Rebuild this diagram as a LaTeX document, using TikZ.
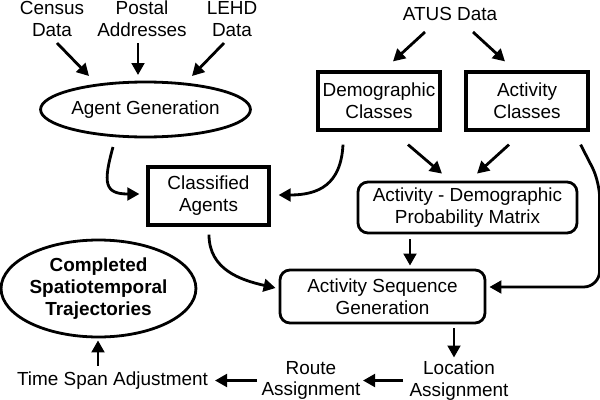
\documentclass[tikz,border=0pt]{standalone}
\usepackage{fontspec}
\setmainfont{Liberation Sans}
\usetikzlibrary{arrows.meta,shapes.geometric}

\tikzset{every picture/.style={line width=2pt}}
\tikzset{
  lbl/.style={align=center, inner sep=0pt, font=\fontsize{14.2}{16.4}\selectfont},
  sqbox/.style={draw, line width=2.4pt, align=center, inner sep=0pt, font=\fontsize{14.2}{16.4}\selectfont},
  rbox/.style={sqbox, line width=2.1pt, rounded corners=7.5pt},
  oval/.style={draw, ellipse, line width=2.1pt, align=center, inner sep=0pt, font=\fontsize{14.2}{16.4}\selectfont},
  arr/.style={-{Triangle[length=9pt,width=9.5pt]}, line width=2.1pt},
}

\begin{document}
\begin{tikzpicture}[x=0.75pt,y=0.75pt,yscale=-1,xscale=1]
	\useasboundingbox (0,0) rectangle (600,400);

	% Text Node
	\draw (52,19) node [lbl] (census) {Census\\Data};
	% Text Node
	\draw (142,19) node [lbl] (postal) {Postal\\Addresses};
	% Text Node
	\draw (232,19) node [lbl] (lehd) {LEHD\\Data};
	% Text Node
	\draw (450,14) node [lbl] (atus) {ATUS Data};

	%Shape: Ellipse
	\draw (145.5,109.5) node [oval, minimum width=153.75pt, minimum height=41.25pt] (agent) {Agent Generation};
	%Shape: Rectangle
	\draw (208.5,196) node [sqbox, minimum width=90.75pt, minimum height=43.5pt] (classified) {Classified\\Agents};
	%Shape: Rectangle
	\draw (379,101) node [sqbox, minimum width=91.5pt, minimum height=43.5pt] (demog) {Demographic\\Classes};
	%Shape: Rectangle
	\draw (527,101) node [sqbox, minimum width=91.5pt, minimum height=43.5pt] (actcls) {Activity\\Classes};
	%Shape: Rounded Rect
	\draw (467.5,207.5) node [rbox, minimum width=164.25pt, minimum height=38.25pt] (matrix) {Activity - Demographic\\Probability Matrix};
	%Shape: Rounded Rect
	\draw (382.5,296.5) node [rbox, minimum width=153.75pt, minimum height=39.75pt] (asg) {Activity Sequence\\Generation};
	%Shape: Ellipse
	\draw (98.5,288.5) node [oval, minimum width=144.75pt, minimum height=72.75pt, font=\fontsize{14.2}{16.4}\selectfont\bfseries] (done) {Completed\\Spatiotemporal\\Trajectories};

	% Text Node
	\draw (459,380.5) node [lbl] (location) {Location\\Assignment};
	% Text Node
	\draw (311,380.5) node [lbl] (route) {Route\\Assignment};
	% Text Node
	\draw (112.5,380.5) node [lbl] (timespan) {Time Span Adjustment};

	%Straight Lines
	\draw [arr] ([shift={(5,24)}]census.center) -- ([shift={(-56.5,-33.5)}]agent.center) ;
	\draw [arr] ([shift={(-4,24)}]postal.center) -- ([shift={(-7.5,-34.5)}]agent.center) ;
	\draw [arr] ([shift={(-8,24)}]lehd.center) -- ([shift={(46.5,-33.5)}]agent.center) ;
	\draw [arr] ([shift={(-25,18)}]atus.center) -- ([shift={(14,-9)}]demog.north) ;
	\draw [arr] ([shift={(23,18)}]atus.center) -- ([shift={(-22,-9)}]actcls.north) ;
	\draw [arr] ([shift={(29,13)}]demog.south) -- ([shift={(-25.5,-7)}]matrix.north) ;
	\draw [arr] ([shift={(-18,13)}]actcls.south) -- ([shift={(9.5,-7)}]matrix.north) ;
	\draw [arr] ([shift={(-57.5,5)}]matrix.south) -- ([shift={(27.5,-3)}]asg.north) ;
	\draw [arr] ([shift={(71.5,4)}]asg.south) -- ([shift={(-5,-23)}]location.center) ;
	\draw [arr] ([shift={(-56,0)}]location.center) -- ([shift={(52,0)}]route.center) ;
	\draw [arr] ([shift={(-54,0)}]route.center) -- ([shift={(102.5,0)}]timespan.center) ;
	\draw [arr] ([shift={(-14.5,-15)}]timespan.center) -- ([shift={(-0.5,2)}]done.south) ;

	%Curve Lines
	\draw [arr] ([shift={(-32.5,37.5)}]agent.center) .. controls +(-10,36) and +(-35,0) .. ([shift={(-7,-2)}]classified.west) ;
	\draw [arr] ([shift={(-36,13)}]demog.south) .. controls +(-2,40) and +(40,0) .. ([shift={(8,-1)}]classified.east) ;
	\draw [arr] ([shift={(0.5,8)}]classified.south) .. controls +(0,35) and +(-35,-8) .. ([shift={(-3,-8.5)}]asg.west) ;
	\draw [arr, rounded corners=12pt] ([shift={(-9,13)}]actcls.south east) -- ([shift={(10,50)}]actcls.south east) |- ([shift={(3,-9.5)}]asg.east) ;

\end{tikzpicture}
\end{document}
